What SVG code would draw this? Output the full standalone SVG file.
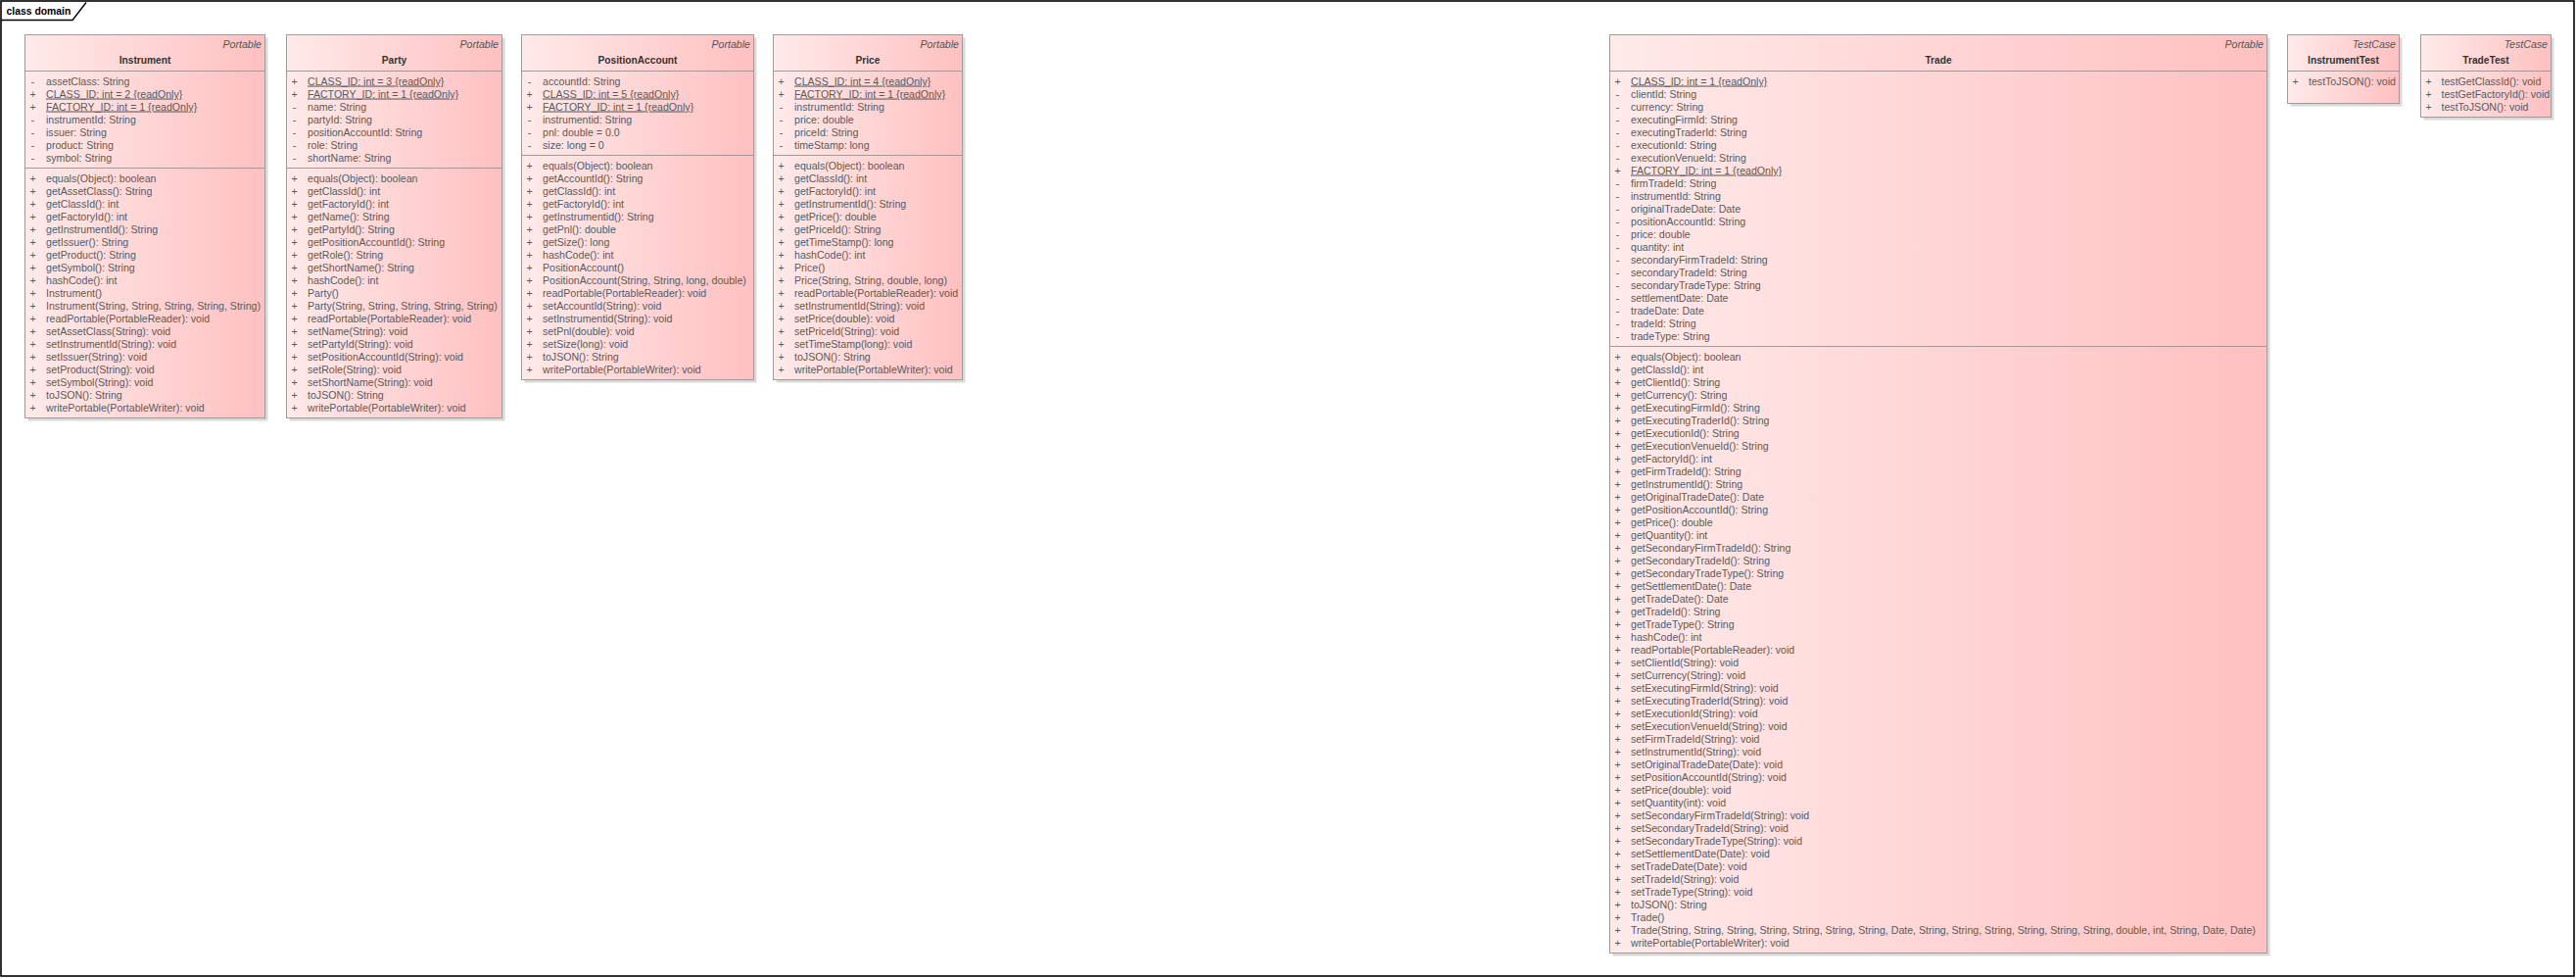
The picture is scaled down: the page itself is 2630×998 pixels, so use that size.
<svg xmlns="http://www.w3.org/2000/svg" width="2630" height="998" viewBox="0 0 2630 998">
<defs>
<linearGradient id="g" x1="0" y1="0" x2="1" y2="0"><stop offset="0" stop-color="#FFEAEA"/><stop offset="1" stop-color="#FFC0C0"/></linearGradient>
<style>
text{font-family:"Liberation Sans",Arial,sans-serif;font-size:10.6px;fill:#5a5a5a}
.box{fill:url(#g);stroke:#9c9c9c;stroke-width:1}
.sh{fill:#d9d9d9}
.sep{stroke:#9c9c9c;stroke-width:1}
.t{font-weight:bold;fill:#333;text-anchor:middle;font-size:10.2px}
.s{font-style:italic;text-anchor:end;fill:#555}
.v{text-anchor:middle}
.u{text-decoration:underline}
</style>
</defs>
<rect width="2630" height="998" fill="#fff"/>
<g id="frame">
<rect x="1" y="1" width="2627" height="995" fill="none" stroke="#000" stroke-width="1.6"/>
<path d="M1,20.5 H74 L88,2.5" fill="none" stroke="#000" stroke-width="1.4"/>
<text x="6.5" y="14.5" style="font-weight:bold;fill:#000;font-size:10.4px">class domain</text>
</g>
<g id="connectors"/>

<g id="Instrument">
<rect class="sh" x="28.5" y="38.5" width="245" height="391"/>
<rect class="box" x="25.5" y="35.5" width="245" height="391"/>
<line class="sep" x1="25.5" y1="72.5" x2="270.5" y2="72.5"/>
<line class="sep" x1="25.5" y1="171.5" x2="270.5" y2="171.5"/>
<text class="s" x="267" y="49">Portable</text>
<text class="t" x="148" y="65">Instrument</text>
<text class="v" x="33.5" y="86.5">-</text><text x="47" y="86.5">assetClass: String</text>
<text class="v" x="33.5" y="99.5">+</text><text class="u" x="47" y="99.5">CLASS_ID: int = 2 {readOnly}</text>
<text class="v" x="33.5" y="112.5">+</text><text class="u" x="47" y="112.5">FACTORY_ID: int = 1 {readOnly}</text>
<text class="v" x="33.5" y="125.5">-</text><text x="47" y="125.5">instrumentId: String</text>
<text class="v" x="33.5" y="138.5">-</text><text x="47" y="138.5">issuer: String</text>
<text class="v" x="33.5" y="151.5">-</text><text x="47" y="151.5">product: String</text>
<text class="v" x="33.5" y="164.5">-</text><text x="47" y="164.5">symbol: String</text>
<text class="v" x="33.5" y="185.5">+</text><text x="47" y="185.5">equals(Object): boolean</text>
<text class="v" x="33.5" y="198.5">+</text><text x="47" y="198.5">getAssetClass(): String</text>
<text class="v" x="33.5" y="211.5">+</text><text x="47" y="211.5">getClassId(): int</text>
<text class="v" x="33.5" y="224.5">+</text><text x="47" y="224.5">getFactoryId(): int</text>
<text class="v" x="33.5" y="237.5">+</text><text x="47" y="237.5">getInstrumentId(): String</text>
<text class="v" x="33.5" y="250.5">+</text><text x="47" y="250.5">getIssuer(): String</text>
<text class="v" x="33.5" y="263.5">+</text><text x="47" y="263.5">getProduct(): String</text>
<text class="v" x="33.5" y="276.5">+</text><text x="47" y="276.5">getSymbol(): String</text>
<text class="v" x="33.5" y="289.5">+</text><text x="47" y="289.5">hashCode(): int</text>
<text class="v" x="33.5" y="302.5">+</text><text x="47" y="302.5">Instrument()</text>
<text class="v" x="33.5" y="315.5">+</text><text x="47" y="315.5">Instrument(String, String, String, String, String)</text>
<text class="v" x="33.5" y="328.5">+</text><text x="47" y="328.5">readPortable(PortableReader): void</text>
<text class="v" x="33.5" y="341.5">+</text><text x="47" y="341.5">setAssetClass(String): void</text>
<text class="v" x="33.5" y="354.5">+</text><text x="47" y="354.5">setInstrumentId(String): void</text>
<text class="v" x="33.5" y="367.5">+</text><text x="47" y="367.5">setIssuer(String): void</text>
<text class="v" x="33.5" y="380.5">+</text><text x="47" y="380.5">setProduct(String): void</text>
<text class="v" x="33.5" y="393.5">+</text><text x="47" y="393.5">setSymbol(String): void</text>
<text class="v" x="33.5" y="406.5">+</text><text x="47" y="406.5">toJSON(): String</text>
<text class="v" x="33.5" y="419.5">+</text><text x="47" y="419.5">writePortable(PortableWriter): void</text>
</g>

<g id="Party">
<rect class="sh" x="295.5" y="38.5" width="220" height="391"/>
<rect class="box" x="292.5" y="35.5" width="220" height="391"/>
<line class="sep" x1="292.5" y1="72.5" x2="512.5" y2="72.5"/>
<line class="sep" x1="292.5" y1="171.5" x2="512.5" y2="171.5"/>
<text class="s" x="509" y="49">Portable</text>
<text class="t" x="402.5" y="65">Party</text>
<text class="v" x="300.5" y="86.5">+</text><text class="u" x="314" y="86.5">CLASS_ID: int = 3 {readOnly}</text>
<text class="v" x="300.5" y="99.5">+</text><text class="u" x="314" y="99.5">FACTORY_ID: int = 1 {readOnly}</text>
<text class="v" x="300.5" y="112.5">-</text><text x="314" y="112.5">name: String</text>
<text class="v" x="300.5" y="125.5">-</text><text x="314" y="125.5">partyId: String</text>
<text class="v" x="300.5" y="138.5">-</text><text x="314" y="138.5">positionAccountId: String</text>
<text class="v" x="300.5" y="151.5">-</text><text x="314" y="151.5">role: String</text>
<text class="v" x="300.5" y="164.5">-</text><text x="314" y="164.5">shortName: String</text>
<text class="v" x="300.5" y="185.5">+</text><text x="314" y="185.5">equals(Object): boolean</text>
<text class="v" x="300.5" y="198.5">+</text><text x="314" y="198.5">getClassId(): int</text>
<text class="v" x="300.5" y="211.5">+</text><text x="314" y="211.5">getFactoryId(): int</text>
<text class="v" x="300.5" y="224.5">+</text><text x="314" y="224.5">getName(): String</text>
<text class="v" x="300.5" y="237.5">+</text><text x="314" y="237.5">getPartyId(): String</text>
<text class="v" x="300.5" y="250.5">+</text><text x="314" y="250.5">getPositionAccountId(): String</text>
<text class="v" x="300.5" y="263.5">+</text><text x="314" y="263.5">getRole(): String</text>
<text class="v" x="300.5" y="276.5">+</text><text x="314" y="276.5">getShortName(): String</text>
<text class="v" x="300.5" y="289.5">+</text><text x="314" y="289.5">hashCode(): int</text>
<text class="v" x="300.5" y="302.5">+</text><text x="314" y="302.5">Party()</text>
<text class="v" x="300.5" y="315.5">+</text><text x="314" y="315.5">Party(String, String, String, String, String)</text>
<text class="v" x="300.5" y="328.5">+</text><text x="314" y="328.5">readPortable(PortableReader): void</text>
<text class="v" x="300.5" y="341.5">+</text><text x="314" y="341.5">setName(String): void</text>
<text class="v" x="300.5" y="354.5">+</text><text x="314" y="354.5">setPartyId(String): void</text>
<text class="v" x="300.5" y="367.5">+</text><text x="314" y="367.5">setPositionAccountId(String): void</text>
<text class="v" x="300.5" y="380.5">+</text><text x="314" y="380.5">setRole(String): void</text>
<text class="v" x="300.5" y="393.5">+</text><text x="314" y="393.5">setShortName(String): void</text>
<text class="v" x="300.5" y="406.5">+</text><text x="314" y="406.5">toJSON(): String</text>
<text class="v" x="300.5" y="419.5">+</text><text x="314" y="419.5">writePortable(PortableWriter): void</text>
</g>

<g id="PositionAccount">
<rect class="sh" x="535.5" y="38.5" width="237" height="352"/>
<rect class="box" x="532.5" y="35.5" width="237" height="352"/>
<line class="sep" x1="532.5" y1="72.5" x2="769.5" y2="72.5"/>
<line class="sep" x1="532.5" y1="158.5" x2="769.5" y2="158.5"/>
<text class="s" x="766" y="49">Portable</text>
<text class="t" x="651" y="65">PositionAccount</text>
<text class="v" x="540.5" y="86.5">-</text><text x="554" y="86.5">accountId: String</text>
<text class="v" x="540.5" y="99.5">+</text><text class="u" x="554" y="99.5">CLASS_ID: int = 5 {readOnly}</text>
<text class="v" x="540.5" y="112.5">+</text><text class="u" x="554" y="112.5">FACTORY_ID: int = 1 {readOnly}</text>
<text class="v" x="540.5" y="125.5">-</text><text x="554" y="125.5">instrumentid: String</text>
<text class="v" x="540.5" y="138.5">-</text><text x="554" y="138.5">pnl: double = 0.0</text>
<text class="v" x="540.5" y="151.5">-</text><text x="554" y="151.5">size: long = 0</text>
<text class="v" x="540.5" y="172.5">+</text><text x="554" y="172.5">equals(Object): boolean</text>
<text class="v" x="540.5" y="185.5">+</text><text x="554" y="185.5">getAccountId(): String</text>
<text class="v" x="540.5" y="198.5">+</text><text x="554" y="198.5">getClassId(): int</text>
<text class="v" x="540.5" y="211.5">+</text><text x="554" y="211.5">getFactoryId(): int</text>
<text class="v" x="540.5" y="224.5">+</text><text x="554" y="224.5">getInstrumentid(): String</text>
<text class="v" x="540.5" y="237.5">+</text><text x="554" y="237.5">getPnl(): double</text>
<text class="v" x="540.5" y="250.5">+</text><text x="554" y="250.5">getSize(): long</text>
<text class="v" x="540.5" y="263.5">+</text><text x="554" y="263.5">hashCode(): int</text>
<text class="v" x="540.5" y="276.5">+</text><text x="554" y="276.5">PositionAccount()</text>
<text class="v" x="540.5" y="289.5">+</text><text x="554" y="289.5">PositionAccount(String, String, long, double)</text>
<text class="v" x="540.5" y="302.5">+</text><text x="554" y="302.5">readPortable(PortableReader): void</text>
<text class="v" x="540.5" y="315.5">+</text><text x="554" y="315.5">setAccountId(String): void</text>
<text class="v" x="540.5" y="328.5">+</text><text x="554" y="328.5">setInstrumentid(String): void</text>
<text class="v" x="540.5" y="341.5">+</text><text x="554" y="341.5">setPnl(double): void</text>
<text class="v" x="540.5" y="354.5">+</text><text x="554" y="354.5">setSize(long): void</text>
<text class="v" x="540.5" y="367.5">+</text><text x="554" y="367.5">toJSON(): String</text>
<text class="v" x="540.5" y="380.5">+</text><text x="554" y="380.5">writePortable(PortableWriter): void</text>
</g>

<g id="Price">
<rect class="sh" x="792.5" y="38.5" width="193" height="352"/>
<rect class="box" x="789.5" y="35.5" width="193" height="352"/>
<line class="sep" x1="789.5" y1="72.5" x2="982.5" y2="72.5"/>
<line class="sep" x1="789.5" y1="158.5" x2="982.5" y2="158.5"/>
<text class="s" x="979" y="49">Portable</text>
<text class="t" x="886" y="65">Price</text>
<text class="v" x="797.5" y="86.5">+</text><text class="u" x="811" y="86.5">CLASS_ID: int = 4 {readOnly}</text>
<text class="v" x="797.5" y="99.5">+</text><text class="u" x="811" y="99.5">FACTORY_ID: int = 1 {readOnly}</text>
<text class="v" x="797.5" y="112.5">-</text><text x="811" y="112.5">instrumentId: String</text>
<text class="v" x="797.5" y="125.5">-</text><text x="811" y="125.5">price: double</text>
<text class="v" x="797.5" y="138.5">-</text><text x="811" y="138.5">priceId: String</text>
<text class="v" x="797.5" y="151.5">-</text><text x="811" y="151.5">timeStamp: long</text>
<text class="v" x="797.5" y="172.5">+</text><text x="811" y="172.5">equals(Object): boolean</text>
<text class="v" x="797.5" y="185.5">+</text><text x="811" y="185.5">getClassId(): int</text>
<text class="v" x="797.5" y="198.5">+</text><text x="811" y="198.5">getFactoryId(): int</text>
<text class="v" x="797.5" y="211.5">+</text><text x="811" y="211.5">getInstrumentId(): String</text>
<text class="v" x="797.5" y="224.5">+</text><text x="811" y="224.5">getPrice(): double</text>
<text class="v" x="797.5" y="237.5">+</text><text x="811" y="237.5">getPriceId(): String</text>
<text class="v" x="797.5" y="250.5">+</text><text x="811" y="250.5">getTimeStamp(): long</text>
<text class="v" x="797.5" y="263.5">+</text><text x="811" y="263.5">hashCode(): int</text>
<text class="v" x="797.5" y="276.5">+</text><text x="811" y="276.5">Price()</text>
<text class="v" x="797.5" y="289.5">+</text><text x="811" y="289.5">Price(String, String, double, long)</text>
<text class="v" x="797.5" y="302.5">+</text><text x="811" y="302.5">readPortable(PortableReader): void</text>
<text class="v" x="797.5" y="315.5">+</text><text x="811" y="315.5">setInstrumentId(String): void</text>
<text class="v" x="797.5" y="328.5">+</text><text x="811" y="328.5">setPrice(double): void</text>
<text class="v" x="797.5" y="341.5">+</text><text x="811" y="341.5">setPriceId(String): void</text>
<text class="v" x="797.5" y="354.5">+</text><text x="811" y="354.5">setTimeStamp(long): void</text>
<text class="v" x="797.5" y="367.5">+</text><text x="811" y="367.5">toJSON(): String</text>
<text class="v" x="797.5" y="380.5">+</text><text x="811" y="380.5">writePortable(PortableWriter): void</text>
</g>

<g id="Trade">
<rect class="sh" x="1646.5" y="38.5" width="671" height="937"/>
<rect class="box" x="1643.5" y="35.5" width="671" height="937"/>
<line class="sep" x1="1643.5" y1="72.5" x2="2314.5" y2="72.5"/>
<line class="sep" x1="1643.5" y1="353.5" x2="2314.5" y2="353.5"/>
<text class="s" x="2311" y="49">Portable</text>
<text class="t" x="1979" y="65">Trade</text>
<text class="v" x="1651.5" y="86.5">+</text><text class="u" x="1665" y="86.5">CLASS_ID: int = 1 {readOnly}</text>
<text class="v" x="1651.5" y="99.5">-</text><text x="1665" y="99.5">clientId: String</text>
<text class="v" x="1651.5" y="112.5">-</text><text x="1665" y="112.5">currency: String</text>
<text class="v" x="1651.5" y="125.5">-</text><text x="1665" y="125.5">executingFirmId: String</text>
<text class="v" x="1651.5" y="138.5">-</text><text x="1665" y="138.5">executingTraderId: String</text>
<text class="v" x="1651.5" y="151.5">-</text><text x="1665" y="151.5">executionId: String</text>
<text class="v" x="1651.5" y="164.5">-</text><text x="1665" y="164.5">executionVenueId: String</text>
<text class="v" x="1651.5" y="177.5">+</text><text class="u" x="1665" y="177.5">FACTORY_ID: int = 1 {readOnly}</text>
<text class="v" x="1651.5" y="190.5">-</text><text x="1665" y="190.5">firmTradeId: String</text>
<text class="v" x="1651.5" y="203.5">-</text><text x="1665" y="203.5">instrumentId: String</text>
<text class="v" x="1651.5" y="216.5">-</text><text x="1665" y="216.5">originalTradeDate: Date</text>
<text class="v" x="1651.5" y="229.5">-</text><text x="1665" y="229.5">positionAccountId: String</text>
<text class="v" x="1651.5" y="242.5">-</text><text x="1665" y="242.5">price: double</text>
<text class="v" x="1651.5" y="255.5">-</text><text x="1665" y="255.5">quantity: int</text>
<text class="v" x="1651.5" y="268.5">-</text><text x="1665" y="268.5">secondaryFirmTradeId: String</text>
<text class="v" x="1651.5" y="281.5">-</text><text x="1665" y="281.5">secondaryTradeId: String</text>
<text class="v" x="1651.5" y="294.5">-</text><text x="1665" y="294.5">secondaryTradeType: String</text>
<text class="v" x="1651.5" y="307.5">-</text><text x="1665" y="307.5">settlementDate: Date</text>
<text class="v" x="1651.5" y="320.5">-</text><text x="1665" y="320.5">tradeDate: Date</text>
<text class="v" x="1651.5" y="333.5">-</text><text x="1665" y="333.5">tradeId: String</text>
<text class="v" x="1651.5" y="346.5">-</text><text x="1665" y="346.5">tradeType: String</text>
<text class="v" x="1651.5" y="367.5">+</text><text x="1665" y="367.5">equals(Object): boolean</text>
<text class="v" x="1651.5" y="380.5">+</text><text x="1665" y="380.5">getClassId(): int</text>
<text class="v" x="1651.5" y="393.5">+</text><text x="1665" y="393.5">getClientId(): String</text>
<text class="v" x="1651.5" y="406.5">+</text><text x="1665" y="406.5">getCurrency(): String</text>
<text class="v" x="1651.5" y="419.5">+</text><text x="1665" y="419.5">getExecutingFirmId(): String</text>
<text class="v" x="1651.5" y="432.5">+</text><text x="1665" y="432.5">getExecutingTraderId(): String</text>
<text class="v" x="1651.5" y="445.5">+</text><text x="1665" y="445.5">getExecutionId(): String</text>
<text class="v" x="1651.5" y="458.5">+</text><text x="1665" y="458.5">getExecutionVenueId(): String</text>
<text class="v" x="1651.5" y="471.5">+</text><text x="1665" y="471.5">getFactoryId(): int</text>
<text class="v" x="1651.5" y="484.5">+</text><text x="1665" y="484.5">getFirmTradeId(): String</text>
<text class="v" x="1651.5" y="497.5">+</text><text x="1665" y="497.5">getInstrumentId(): String</text>
<text class="v" x="1651.5" y="510.5">+</text><text x="1665" y="510.5">getOriginalTradeDate(): Date</text>
<text class="v" x="1651.5" y="523.5">+</text><text x="1665" y="523.5">getPositionAccountId(): String</text>
<text class="v" x="1651.5" y="536.5">+</text><text x="1665" y="536.5">getPrice(): double</text>
<text class="v" x="1651.5" y="549.5">+</text><text x="1665" y="549.5">getQuantity(): int</text>
<text class="v" x="1651.5" y="562.5">+</text><text x="1665" y="562.5">getSecondaryFirmTradeId(): String</text>
<text class="v" x="1651.5" y="575.5">+</text><text x="1665" y="575.5">getSecondaryTradeId(): String</text>
<text class="v" x="1651.5" y="588.5">+</text><text x="1665" y="588.5">getSecondaryTradeType(): String</text>
<text class="v" x="1651.5" y="601.5">+</text><text x="1665" y="601.5">getSettlementDate(): Date</text>
<text class="v" x="1651.5" y="614.5">+</text><text x="1665" y="614.5">getTradeDate(): Date</text>
<text class="v" x="1651.5" y="627.5">+</text><text x="1665" y="627.5">getTradeId(): String</text>
<text class="v" x="1651.5" y="640.5">+</text><text x="1665" y="640.5">getTradeType(): String</text>
<text class="v" x="1651.5" y="653.5">+</text><text x="1665" y="653.5">hashCode(): int</text>
<text class="v" x="1651.5" y="666.5">+</text><text x="1665" y="666.5">readPortable(PortableReader): void</text>
<text class="v" x="1651.5" y="679.5">+</text><text x="1665" y="679.5">setClientId(String): void</text>
<text class="v" x="1651.5" y="692.5">+</text><text x="1665" y="692.5">setCurrency(String): void</text>
<text class="v" x="1651.5" y="705.5">+</text><text x="1665" y="705.5">setExecutingFirmId(String): void</text>
<text class="v" x="1651.5" y="718.5">+</text><text x="1665" y="718.5">setExecutingTraderId(String): void</text>
<text class="v" x="1651.5" y="731.5">+</text><text x="1665" y="731.5">setExecutionId(String): void</text>
<text class="v" x="1651.5" y="744.5">+</text><text x="1665" y="744.5">setExecutionVenueId(String): void</text>
<text class="v" x="1651.5" y="757.5">+</text><text x="1665" y="757.5">setFirmTradeId(String): void</text>
<text class="v" x="1651.5" y="770.5">+</text><text x="1665" y="770.5">setInstrumentId(String): void</text>
<text class="v" x="1651.5" y="783.5">+</text><text x="1665" y="783.5">setOriginalTradeDate(Date): void</text>
<text class="v" x="1651.5" y="796.5">+</text><text x="1665" y="796.5">setPositionAccountId(String): void</text>
<text class="v" x="1651.5" y="809.5">+</text><text x="1665" y="809.5">setPrice(double): void</text>
<text class="v" x="1651.5" y="822.5">+</text><text x="1665" y="822.5">setQuantity(int): void</text>
<text class="v" x="1651.5" y="835.5">+</text><text x="1665" y="835.5">setSecondaryFirmTradeId(String): void</text>
<text class="v" x="1651.5" y="848.5">+</text><text x="1665" y="848.5">setSecondaryTradeId(String): void</text>
<text class="v" x="1651.5" y="861.5">+</text><text x="1665" y="861.5">setSecondaryTradeType(String): void</text>
<text class="v" x="1651.5" y="874.5">+</text><text x="1665" y="874.5">setSettlementDate(Date): void</text>
<text class="v" x="1651.5" y="887.5">+</text><text x="1665" y="887.5">setTradeDate(Date): void</text>
<text class="v" x="1651.5" y="900.5">+</text><text x="1665" y="900.5">setTradeId(String): void</text>
<text class="v" x="1651.5" y="913.5">+</text><text x="1665" y="913.5">setTradeType(String): void</text>
<text class="v" x="1651.5" y="926.5">+</text><text x="1665" y="926.5">toJSON(): String</text>
<text class="v" x="1651.5" y="939.5">+</text><text x="1665" y="939.5">Trade()</text>
<text class="v" x="1651.5" y="952.5">+</text><text x="1665" y="952.5">Trade(String, String, String, String, String, String, String, Date, String, String, String, String, String, String, double, int, String, Date, Date)</text>
<text class="v" x="1651.5" y="965.5">+</text><text x="1665" y="965.5">writePortable(PortableWriter): void</text>
</g>

<g id="InstrumentTest">
<rect class="sh" x="2338.5" y="38.5" width="114" height="70"/>
<rect class="box" x="2335.5" y="35.5" width="114" height="70"/>
<line class="sep" x1="2335.5" y1="72.5" x2="2449.5" y2="72.5"/>
<text class="s" x="2446" y="49">TestCase</text>
<text class="t" x="2392.5" y="65">InstrumentTest</text>
<text class="v" x="2343.5" y="86.5">+</text><text x="2357" y="86.5">testToJSON(): void</text>
</g>

<g id="TradeTest">
<rect class="sh" x="2474.5" y="38.5" width="133" height="84"/>
<rect class="box" x="2471.5" y="35.5" width="133" height="84"/>
<line class="sep" x1="2471.5" y1="72.5" x2="2604.5" y2="72.5"/>
<text class="s" x="2601" y="49">TestCase</text>
<text class="t" x="2538" y="65">TradeTest</text>
<text class="v" x="2479.5" y="86.5">+</text><text x="2492.5" y="86.5">testGetClassId(): void</text>
<text class="v" x="2479.5" y="99.5">+</text><text x="2492.5" y="99.5">testGetFactoryId(): void</text>
<text class="v" x="2479.5" y="112.5">+</text><text x="2492.5" y="112.5">testToJSON(): void</text>
</g>
</svg>
